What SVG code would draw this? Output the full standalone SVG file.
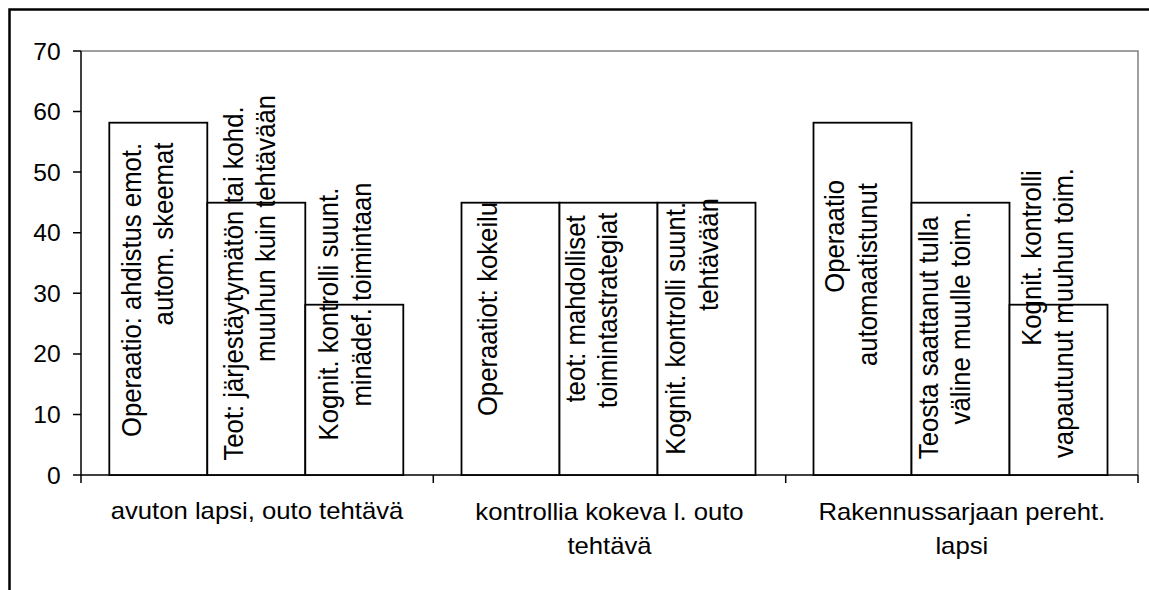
<svg xmlns="http://www.w3.org/2000/svg" width="1149" height="590" viewBox="0 0 1149 590">
<style>
text{font-family:"Liberation Sans",Arial,sans-serif;fill:#000}
.yl{font-size:23px;text-anchor:end}
.cl{font-size:24px;text-anchor:middle}
.bl{font-size:25.7px;text-anchor:middle}
.bar{fill:#fff;stroke:#000;stroke-width:1.8}
.ax{stroke:#000;stroke-width:1.5;fill:none}
.pb{stroke:#808080;stroke-width:1.5;fill:none}
</style>
<rect x="0" y="0" width="1149" height="590" fill="#fff"/>
<rect x="9.5" y="9.5" width="1160" height="600" fill="none" stroke="#000" stroke-width="2.5"/>
<g id="plot-frame">
<path class="pb" d="M81 51H1138V475"/>
</g>
<g id="axes">
<path class="ax" d="M81 51V483M73 475H1138"/>
<path class="ax" d="M73 51H81M73 111.6H81M73 172.1H81M73 232.7H81M73 293.3H81M73 353.9H81M73 414.4H81"/>
<path class="ax" d="M433.3 475V483M785.7 475V483M1138 475V483"/>
<g>
<text class="yl" transform="translate(60.7,59.5) scale(1.07,1)">70</text>
<text class="yl" transform="translate(60.7,120.1) scale(1.07,1)">60</text>
<text class="yl" transform="translate(60.7,180.6) scale(1.07,1)">50</text>
<text class="yl" transform="translate(60.7,241.2) scale(1.07,1)">40</text>
<text class="yl" transform="translate(60.7,301.8) scale(1.07,1)">30</text>
<text class="yl" transform="translate(60.7,362.4) scale(1.07,1)">20</text>
<text class="yl" transform="translate(60.7,422.9) scale(1.07,1)">10</text>
<text class="yl" transform="translate(60.7,483.5) scale(1.07,1)">0</text>
</g>
<g>
<text class="cl" transform="translate(257,519) scale(1.07,1)">avuton lapsi, outo tehtävä</text>
<text class="cl" transform="translate(609.5,520) scale(1.07,1)">kontrollia kokeva l. outo</text>
<text class="cl" transform="translate(609.5,553.5) scale(1.07,1)">tehtävä</text>
<text class="cl" transform="translate(961.8,520) scale(1.07,1)">Rakennussarjaan pereht.</text>
<text class="cl" transform="translate(961.8,553.5) scale(1.07,1)">lapsi</text>
</g>
</g>
<g id="bar1">
<rect class="bar" x="109.3" y="122.7" width="98" height="352.3"/>
</g>
<g id="bar2">
<rect class="bar" x="207.3" y="202.7" width="98" height="272.3"/>
</g>
<g id="bar3">
<rect class="bar" x="305.3" y="304.7" width="98" height="170.3"/>
</g>
<g id="bar4">
<rect class="bar" x="461.5" y="202.7" width="98" height="272.3"/>
</g>
<g id="bar5">
<rect class="bar" x="559.5" y="202.7" width="98" height="272.3"/>
</g>
<g id="bar6">
<rect class="bar" x="657.5" y="202.7" width="98" height="272.3"/>
</g>
<g id="bar7">
<rect class="bar" x="813.5" y="122.7" width="98" height="352.3"/>
</g>
<g id="bar8">
<rect class="bar" x="911.5" y="202.7" width="98" height="272.3"/>
</g>
<g id="bar9">
<rect class="bar" x="1009.5" y="304.7" width="98" height="170.3"/>
</g>
<g id="bar-labels">
<text class="bl" transform="translate(141,290) scale(1.07,1) rotate(-90)">Operaatio: ahdistus emot.</text>
<text class="bl" transform="translate(173.3,234) scale(1.07,1) rotate(-90)">autom. skeemat</text>
<text class="bl" transform="translate(243,283.5) scale(1.07,1) rotate(-90)">Teot: järjestäytymätön tai kohd.</text>
<text class="bl" transform="translate(275,228.5) scale(1.07,1) rotate(-90)">muuhun kuin tehtävään</text>
<text class="bl" transform="translate(338.3,314) scale(1.07,1) rotate(-90)">Kognit. kontrolli suunt.</text>
<text class="bl" transform="translate(370.5,294.5) scale(1.07,1) rotate(-90)">minädef. toimintaan</text>
<text class="bl" transform="translate(496.5,309) scale(1.07,1) rotate(-90)">Operaatiot: kokeilu</text>
<text class="bl" transform="translate(585,309) scale(1.07,1) rotate(-90)">teot: mahdolliset</text>
<text class="bl" transform="translate(617,310.5) scale(1.07,1) rotate(-90)">toimintastrategiat</text>
<text class="bl" transform="translate(685,328.3) scale(1.07,1) rotate(-90)">Kognit. kontrolli suunt.</text>
<text class="bl" transform="translate(717.5,254.5) scale(1.07,1) rotate(-90)">tehtävään</text>
<text class="bl" transform="translate(844,236.4) scale(1.07,1) rotate(-90)">Operaatio</text>
<text class="bl" transform="translate(876.5,274.5) scale(1.07,1) rotate(-90)">automaatistunut</text>
<text class="bl" transform="translate(938,337.8) scale(1.07,1) rotate(-90)">Teosta saattanut tulla</text>
<text class="bl" transform="translate(970,318) scale(1.07,1) rotate(-90)">väline muulle toim.</text>
<text class="bl" transform="translate(1041,258) scale(1.07,1) rotate(-90)">Kognit. kontrolli</text>
<text class="bl" transform="translate(1073,313) scale(1.07,1) rotate(-90)">vapautunut muuhun toim.</text>
</g>
</svg>
